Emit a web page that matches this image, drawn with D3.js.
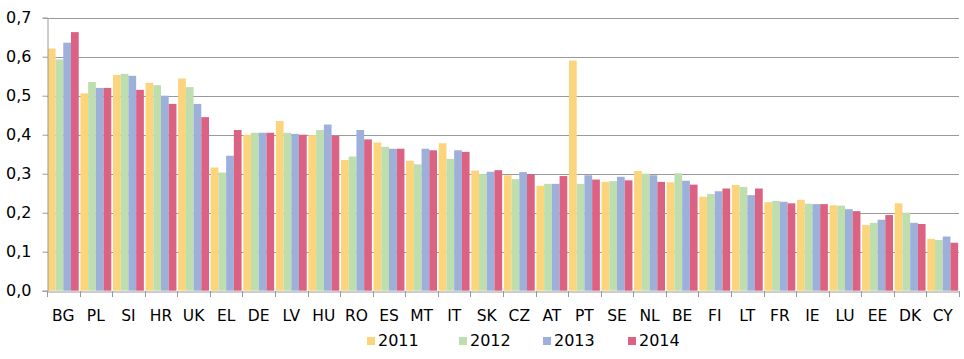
<!DOCTYPE html>
<html><head><meta charset="utf-8">
<script src="https://cdn.jsdelivr.net/npm/d3@7"></script>
<style>body{margin:0;background:#fff;}svg{display:block;}</style>
</head><body>
<svg id="c" width="964" height="359"></svg>
<script>
const categories = ["BG","PL","SI","HR","UK","EL","DE","LV","HU","RO","ES","MT","IT","SK","CZ","AT","PT","SE","NL","BE","FI","LT","FR","IE","LU","EE","DK","CY"];
const years = ["2011","2012","2013","2014"];
const v2011 = [0.621,0.506,0.553,0.533,0.544,0.316,0.400,0.435,0.399,0.335,0.380,0.333,0.378,0.308,0.296,0.269,0.590,0.279,0.307,0.278,0.241,0.271,0.227,0.233,0.219,0.168,0.224,0.133];
const v2012 = [0.593,0.535,0.556,0.527,0.522,0.303,0.405,0.405,0.412,0.344,0.369,0.324,0.338,0.299,0.286,0.274,0.274,0.281,0.300,0.301,0.248,0.266,0.230,0.223,0.218,0.174,0.200,0.130];
const v2013 = [0.636,0.520,0.551,0.500,0.479,0.346,0.405,0.402,0.426,0.412,0.364,0.364,0.360,0.305,0.304,0.274,0.296,0.292,0.296,0.282,0.255,0.245,0.228,0.222,0.209,0.182,0.174,0.139];
const v2014 = [0.663,0.520,0.515,0.479,0.445,0.412,0.405,0.400,0.397,0.388,0.364,0.360,0.356,0.309,0.299,0.294,0.285,0.283,0.279,0.272,0.262,0.262,0.224,0.222,0.204,0.194,0.171,0.123];
const yTicks = [0,0.1,0.2,0.3,0.4,0.5,0.6,0.7];
const colors = ["#FBD47B","#BFDEAE","#9CB0DA","#DC6283"];
const series = [v2011, v2012, v2013, v2014];

const svg = d3.select("#c");
const mLeft = 47, mRight = 959, mTop = 17.7, mBottom = 290.7;
const font = "'DejaVu Sans', Verdana, sans-serif";

const x = d3.scaleBand().domain(categories).range([mLeft, mRight]).paddingInner(0).paddingOuter(0);
const xs = d3.scaleBand().domain(years).range([0, x.bandwidth()]).paddingOuter(0.11).paddingInner(0);
const y = d3.scaleLinear().domain([0, 0.7]).range([mBottom, mTop]);
const fmt = d => d3.format(".1f")(d).replace(".", ",");

// gridlines
svg.append("g").selectAll("line").data(yTicks.filter(d => d > 0)).join("line")
  .attr("x1", mLeft).attr("x2", mRight)
  .attr("y1", d => Math.round(y(d)) + 0.5).attr("y2", d => Math.round(y(d)) + 0.5)
  .attr("stroke", "#9a9a9a").attr("stroke-width", 1);

// bars
const g = svg.append("g");
years.forEach((yr, i) => {
  g.append("g").selectAll("rect").data(categories).join("rect")
    .attr("x", c => x(c) + xs(yr))
    .attr("width", xs.bandwidth())
    .attr("y", (c, j) => y(series[i][j]))
    .attr("height", (c, j) => mBottom - y(series[i][j]))
    .attr("fill", colors[i]);
});

// y axis
const yAxis = svg.append("g").attr("transform", `translate(${mLeft + 0.5},0)`)
  .call(d3.axisLeft(y).tickValues(yTicks).tickFormat(fmt).tickSize(5).tickPadding(11));
yAxis.select(".domain").attr("stroke", "#9a9a9a");
yAxis.selectAll(".tick line").attr("stroke", "#9a9a9a");
yAxis.selectAll("text").attr("font-family", font).attr("font-size", 16).attr("fill", "#000");

// x axis
const xAxis = svg.append("g").attr("transform", `translate(0,${Math.round(mBottom) + 0.5})`)
  .call(d3.axisBottom(x).tickSize(0).tickPadding(18));
xAxis.select(".domain").attr("stroke", "#9a9a9a");
xAxis.selectAll("text").attr("font-family", font).attr("font-size", 15.5).attr("fill", "#000");
svg.append("g").selectAll("line").data(categories.concat(["_end"])).join("line")
  .attr("x1", (c, i) => Math.round(mLeft + i * x.bandwidth()) + 0.5)
  .attr("x2", (c, i) => Math.round(mLeft + i * x.bandwidth()) + 0.5)
  .attr("y1", Math.round(mBottom)).attr("y2", Math.round(mBottom) + 6)
  .attr("stroke", "#9a9a9a");

// legend
const legX = [367, 459, 543, 628];
const leg = svg.append("g");
years.forEach((yr, i) => {
  leg.append("rect").attr("x", legX[i]).attr("y", 337).attr("width", 8).attr("height", 8).attr("fill", colors[i]);
  leg.append("text").attr("x", legX[i] + 11).attr("y", 346).text(yr)
    .attr("font-family", font).attr("font-size", 16).attr("fill", "#000");
});
</script>
</body></html>
